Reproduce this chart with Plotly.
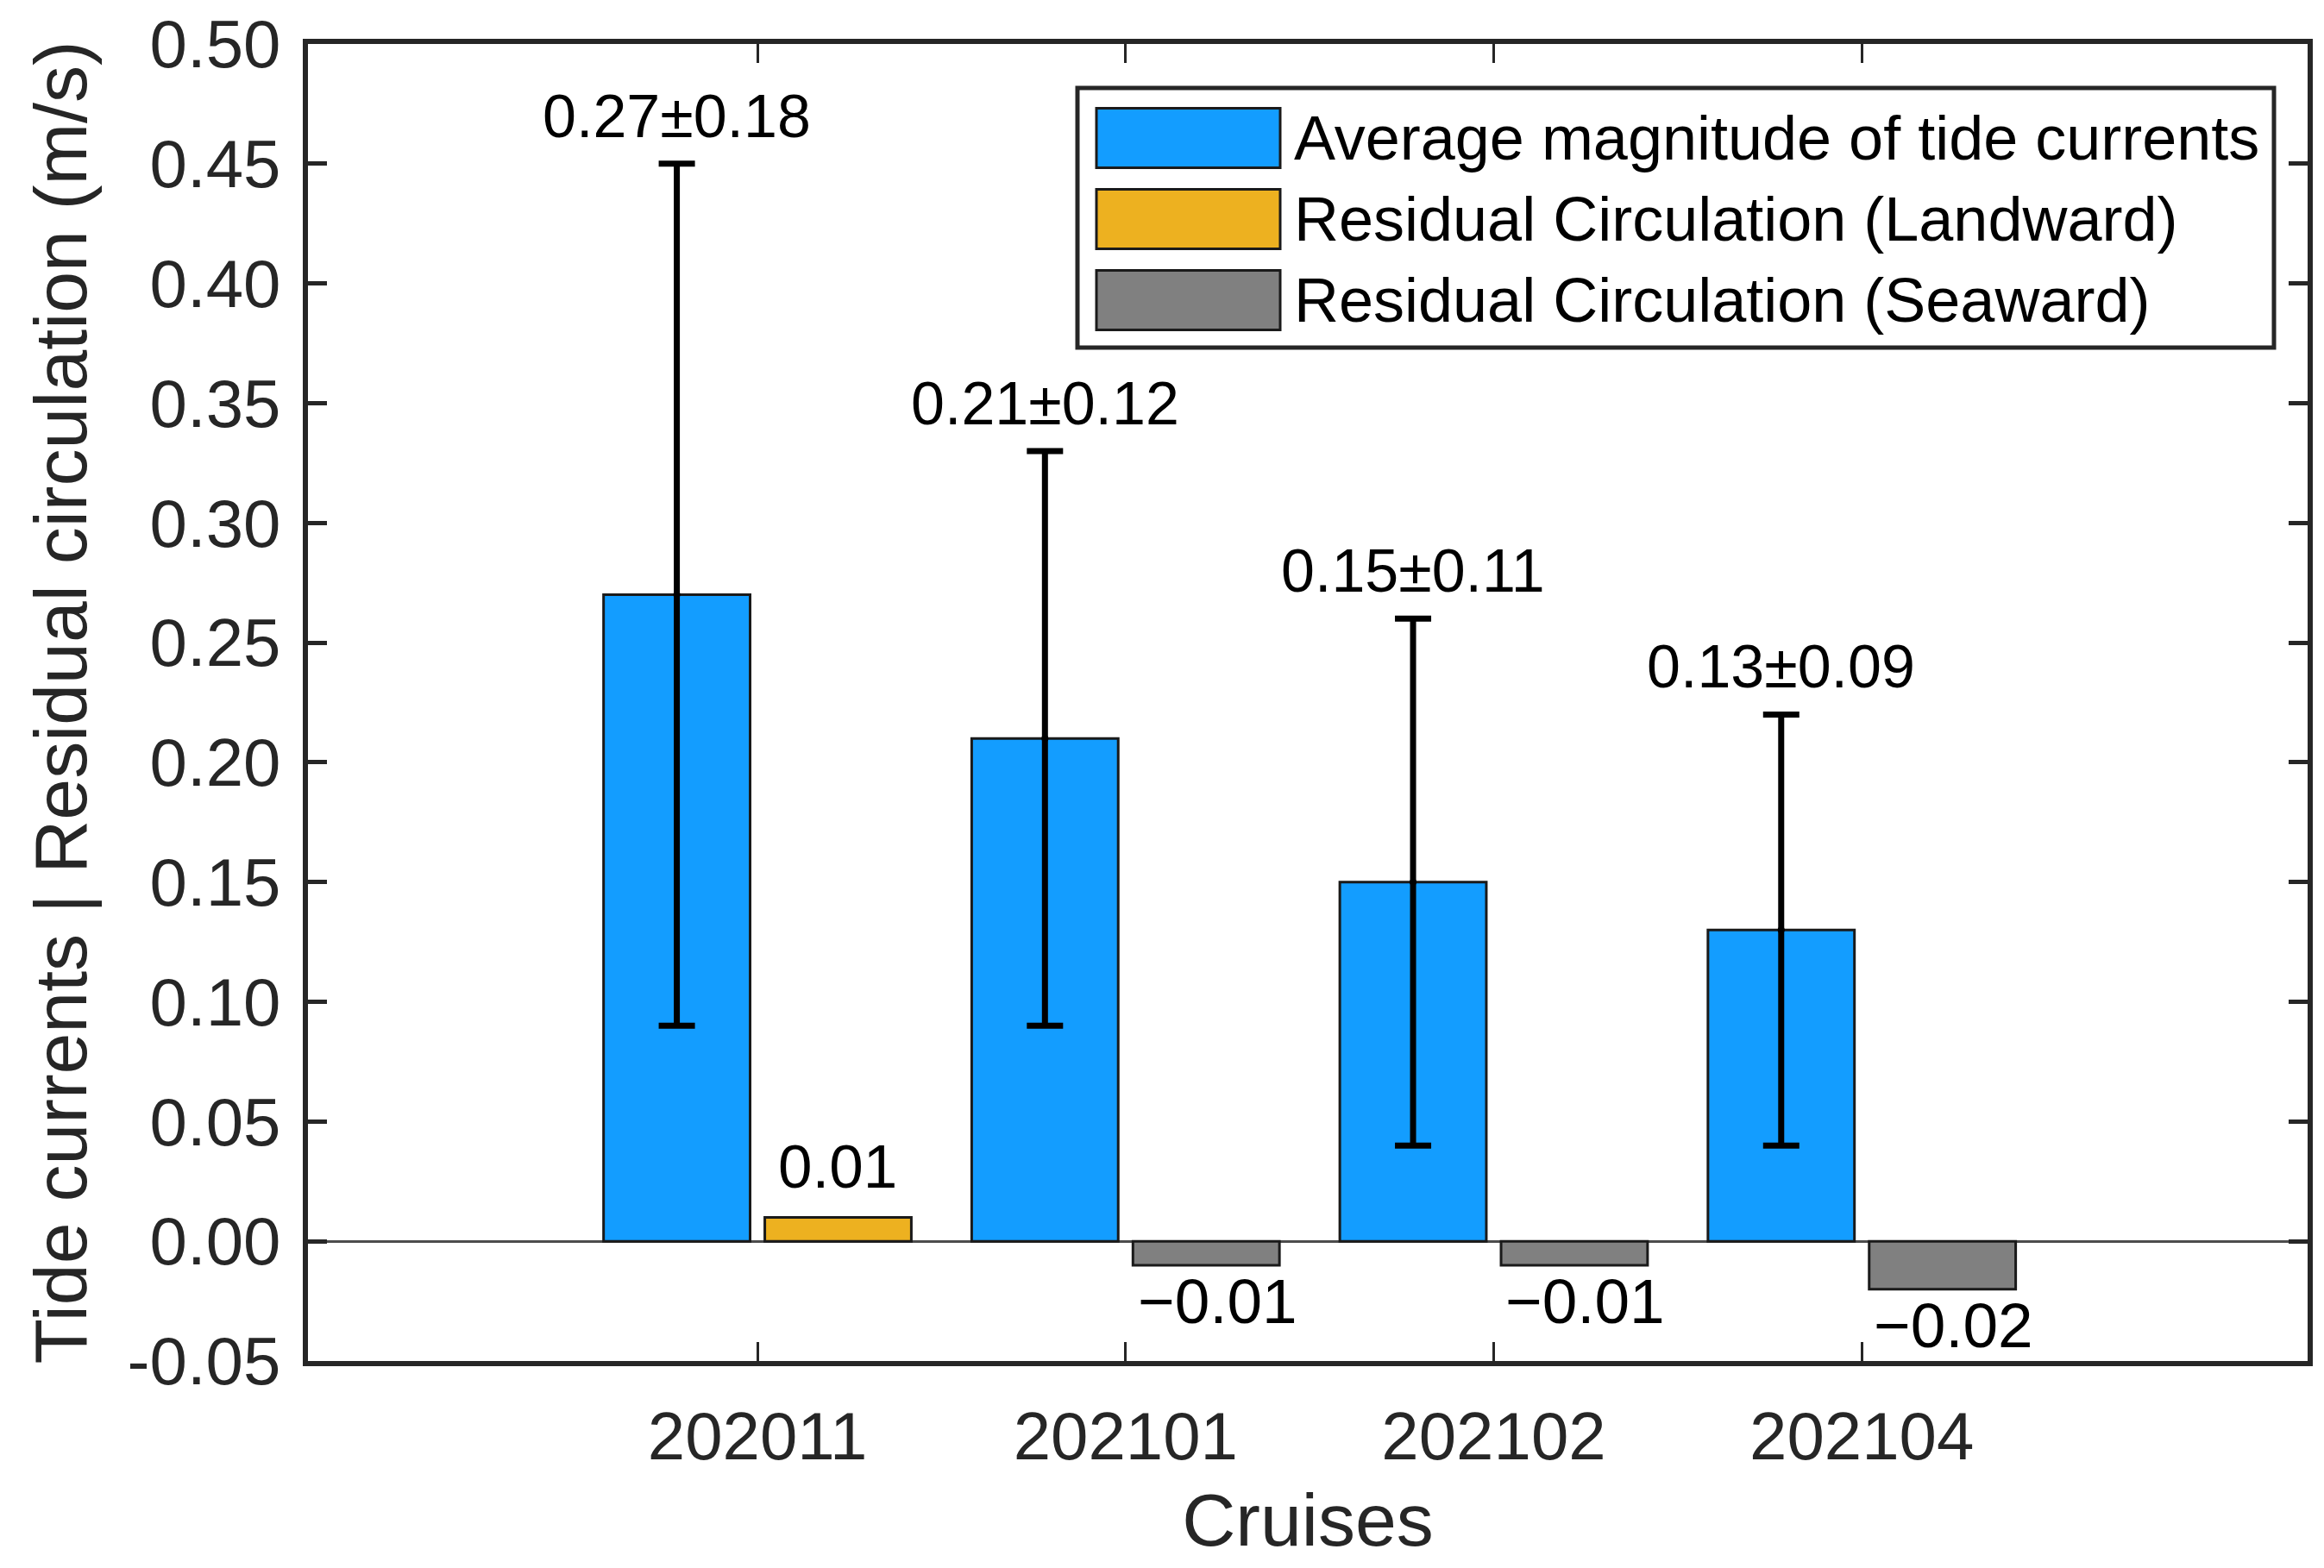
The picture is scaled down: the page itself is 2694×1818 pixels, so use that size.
import plotly.graph_objects as go

# ---------------- data ----------------
cruises = ["202011", "202101", "202102", "202104"]
tide_mean = [0.27, 0.21, 0.15, 0.13]
tide_std = [0.18, 0.12, 0.11, 0.09]
residual = [0.01, -0.01, -0.01, -0.02]
series_names = [
    "Average magnitude of tide currents",
    "Residual Circulation (Landward)",
    "Residual Circulation (Seaward)",
]
y_ticks = [-0.05, 0.00, 0.05, 0.10, 0.15, 0.20, 0.25, 0.30, 0.35, 0.40, 0.45, 0.50]
x_title = "Cruises"
y_title = "Tide currents | Residual circulation (m/s)"

# ---------------- styling ----------------
PAGE_PAD = 8                      # default body margin of the html page
W, H = 2694 - 2 * PAGE_PAD, 1818 - 2 * PAGE_PAD
# plot area in page pixels: x 357..2675, y 51..1578
ML, MT = 357 - PAGE_PAD, 51 - PAGE_PAD
MR = W - (2675 - PAGE_PAD)
MB = H - (1578 - PAGE_PAD)
C_BLUE = "#139DFF"
C_YEL = "#EDB120"
C_GRAY = "#808080"
C_AX = "#262626"
FONT = "Liberation Sans, Arial, Helvetica, sans-serif"
BAR_W = 0.398
OFF_BLUE = -0.418
OFF_RES = 0.02

xs = list(range(len(cruises)))
landward = [v if v > 0 else None for v in residual]
seaward = [v if v < 0 else None for v in residual]

fig = go.Figure()
fig.add_trace(go.Bar(
    x=xs, y=tide_mean, name=series_names[0], width=BAR_W, offset=OFF_BLUE,
    marker=dict(color=C_BLUE, line=dict(color="#1a1a1a", width=3)),
    error_y=dict(type="data", array=tide_std, visible=True, color="black",
                 thickness=7, width=21),
    showlegend=False,
))
fig.add_trace(go.Bar(
    x=xs, y=landward, name=series_names[1], width=BAR_W, offset=OFF_RES,
    marker=dict(color=C_YEL, line=dict(color="#1a1a1a", width=3)),
    showlegend=False,
))
fig.add_trace(go.Bar(
    x=xs, y=seaward, name=series_names[2], width=BAR_W, offset=OFF_RES,
    marker=dict(color=C_GRAY, line=dict(color="#1a1a1a", width=3)),
    showlegend=False,
))
# small dot at the mean (error bar centre)
blue_c = OFF_BLUE + BAR_W / 2
fig.add_trace(go.Scatter(
    x=[x + blue_c for x in xs], y=tide_mean, mode="markers",
    marker=dict(color="black", size=8), showlegend=False, hoverinfo="skip",
))

# ---------------- value labels ----------------
res_c = OFF_RES + BAR_W / 2
for x, m, s in zip(xs, tide_mean, tide_std):
    fig.add_annotation(x=x + blue_c, y=m + s, text=f"{m:.2f}±{s:.2f}",
                       showarrow=False, yanchor="bottom", yshift=14,
                       font=dict(family=FONT, size=70, color="black"))
for x, v in zip(xs, residual):
    txt = f"{v:.2f}".replace("-", "−")
    if v >= 0:
        fig.add_annotation(x=x + res_c, y=v, text=txt, showarrow=False,
                           yanchor="bottom", yshift=17,
                           font=dict(family=FONT, size=71, color="black"))
    else:
        fig.add_annotation(x=x + res_c + 0.03, y=v, text=txt, showarrow=False,
                           yanchor="top", yshift=1,
                           font=dict(family=FONT, size=73, color="black"))

# ---------------- custom legend (large swatches) ----------------
ph = H - MT - MB
pw = W - ML - MR
def px_x(p):  # page pixel -> paper fraction
    return (p - PAGE_PAD - ML) / pw
def px_y(p):
    return (H - MB - (p - PAGE_PAD)) / ph

fig.add_shape(type="rect", xref="paper", yref="paper",
              x0=px_x(1249), x1=px_x(2636), y0=px_y(403), y1=px_y(102),
              line=dict(color=C_AX, width=5), fillcolor="white", layer="above")
leg_colors = [C_BLUE, C_YEL, C_GRAY]
row0, row_step, sw_h = 160, 94, 69
for i, (nm, col) in enumerate(zip(series_names, leg_colors)):
    cy = row0 + i * row_step
    fig.add_shape(type="rect", xref="paper", yref="paper",
                  x0=px_x(1271), x1=px_x(1484),
                  y0=px_y(cy + sw_h / 2), y1=px_y(cy - sw_h / 2),
                  line=dict(color="#1a1a1a", width=3), fillcolor=col, layer="above")
    fig.add_annotation(xref="paper", yref="paper", x=px_x(1498), y=px_y(cy),
                       text=nm, showarrow=False, xanchor="left", yanchor="middle",
                       font=dict(family=FONT, size=72, color="black"))

# ---------------- axes ----------------
fig.update_xaxes(
    range=[-1.221, 4.211], tickvals=xs, ticktext=cruises,
    ticks="inside", ticklen=22, tickwidth=3, tickcolor=C_AX,
    showline=True, linewidth=6, linecolor=C_AX, mirror="ticks",
    showgrid=False, zeroline=False, ticklabeloverflow="allow",
    tickfont=dict(family=FONT, size=78, color=C_AX),
    ticklabelstandoff=14,
    title=dict(text=x_title, font=dict(family=FONT, size=86, color=C_AX), standoff=60),
)
fig.update_yaxes(
    range=[-0.05, 0.5], tickvals=y_ticks, ticktext=[f"{v:.2f}" for v in y_ticks],
    ticks="inside", ticklen=22, tickwidth=5, tickcolor=C_AX,
    showline=True, linewidth=6, linecolor=C_AX, mirror="ticks",
    showgrid=False, zeroline=True, zerolinecolor="#4d4d4d", zerolinewidth=3,
    ticklabeloverflow="allow",
    tickfont=dict(family=FONT, size=78, color=C_AX),
    ticklabelstandoff=10,
    title=dict(text=y_title, font=dict(family=FONT, size=86, color=C_AX), standoff=21),
)

fig.update_layout(
    width=W, height=H, autosize=False,
    margin=dict(l=ML, r=MR, t=MT, b=MB, autoexpand=False),
    plot_bgcolor="white", paper_bgcolor="white",
    barmode="overlay", showlegend=False,
    font=dict(family=FONT, color=C_AX),
)

fig.write_html("out.html")
